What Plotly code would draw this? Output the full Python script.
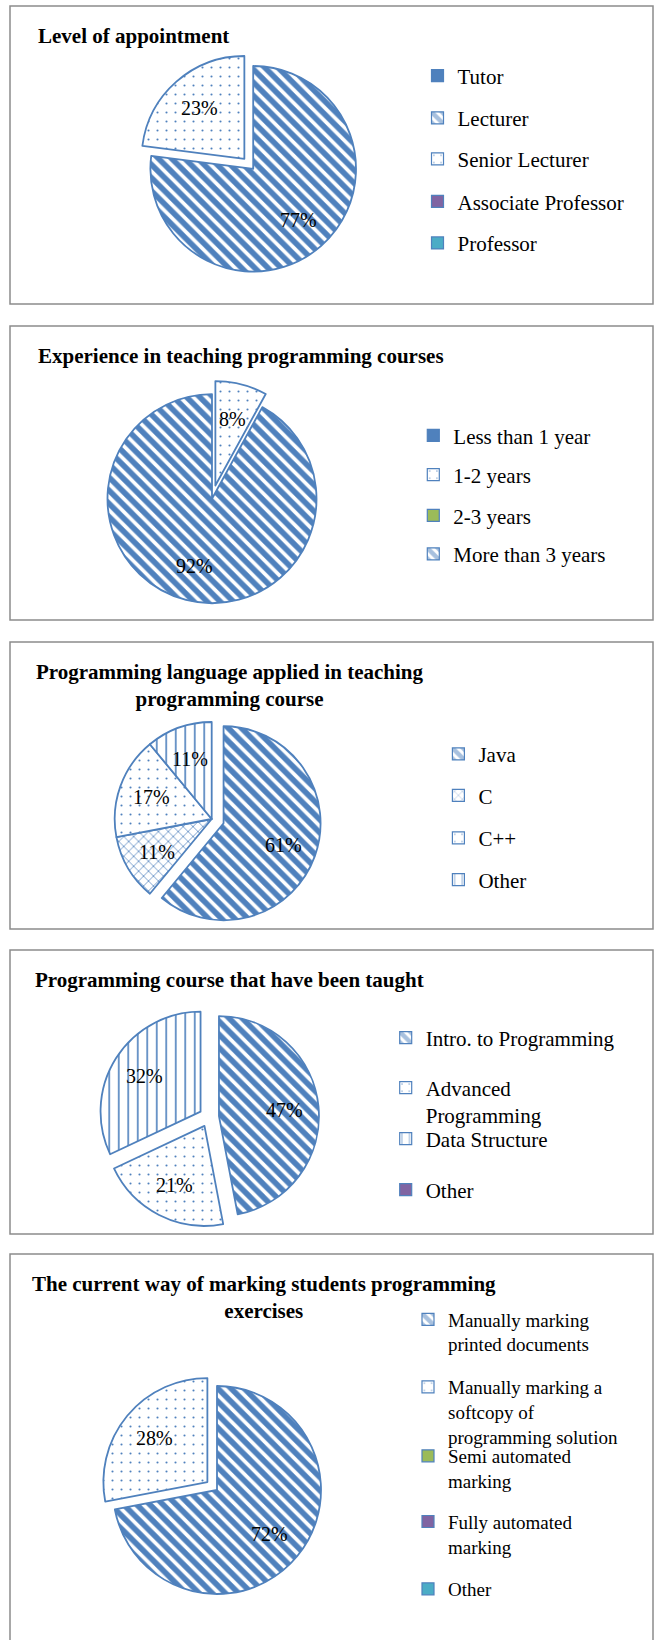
import math
import plotly.graph_objects as go

W, H = 655, 1640
BLUE = '#4F81BD'
PURPLE = '#8064A2'
GREEN = '#9BBB59'
AQUA = '#4BACC6'
FONT = 'Liberation Serif, Times New Roman, serif'

# ---------------- data ----------------
appoint_labels = ['Tutor', 'Lecturer', 'Senior Lecturer', 'Associate Professor', 'Professor']
appoint_values = [0, 77, 23, 0, 0]

exper_labels = ['Less than 1 year', '1-2 years', '2-3 years', 'More than 3 years']
exper_values = [0, 8, 0, 92]

lang_labels = ['Java', 'C', 'C++', 'Other']
lang_values = [61, 11, 17, 11]

course_labels = ['Intro. to Programming', 'Advanced<br>Programming', 'Data Structure', 'Other']
course_values = [47, 21, 32, 0]

marking_labels = ['Manually marking<br>printed documents',
                  'Manually marking a<br>softcopy of<br>programming solution',
                  'Semi automated<br>marking', 'Fully automated<br>marking', 'Other']
marking_values = [72, 28, 0, 0, 0]

titles = ['Level of appointment',
          'Experience in teaching programming courses',
          'Programming language applied in teaching<br>programming course',
          'Programming course that have been taught',
          'The current way of marking students programming<br>exercises']

# ---------------- styles ----------------
STYLES = {
    'solid_blue':   dict(color=BLUE,   shape='',   size=8, solidity=0.3),
    'solid_purple': dict(color=PURPLE, shape='',   size=8, solidity=0.3),
    'solid_green':  dict(color=GREEN,  shape='',   size=8, solidity=0.3),
    'solid_aqua':   dict(color=AQUA,   shape='',   size=8, solidity=0.3),
    'hatch':        dict(color='white', shape='\\', size=9.3, solidity=0.6),
    'dots':         dict(color='white', shape='.',  size=9, solidity=0.045),
    'vdash':        dict(color='white', shape='|',  size=9.5, solidity=0.17),
    'zigzag':       dict(color='white', shape='x',  size=7, solidity=0.2),
}

panels = [
    dict(labels=appoint_labels, values=appoint_values, title=titles[0],
         styles=['solid_blue', 'hatch', 'dots', 'solid_purple', 'solid_aqua'],
         pull=[0, 0, 0.13, 0, 0], box=(10, 6, 653, 304), center=(253.2, 168.8), r=102.8,
         tpos=(35.5, 36, 'left'), legx=454.5, legfont=21,
         rows=[(76, 76), (118.3, 118.3), (159.3, 159.3), (201.7, 201.7), (243.3, 243.3)]),
    dict(labels=exper_labels, values=exper_values, title=titles[1],
         styles=['solid_blue', 'dots', 'solid_green', 'hatch'],
         pull=[0, 0.13, 0, 0], box=(10, 326, 653, 620), center=(212, 498.7), r=104.5,
         tpos=(35.5, 356, 'left'), legx=450.3, legfont=21,
         rows=[(435.7, 435.7), (475, 475), (515.7, 515.7), (554.3, 554.3)]),
    dict(labels=lang_labels, values=lang_values, title=titles[2],
         styles=['hatch', 'zigzag', 'dots', 'vdash'],
         pull=[0.13, 0, 0, 0], box=(10, 642, 653, 929), center=(211.7, 819), r=97,
         tpos=(230, 685, 'center'), legx=475.4, legfont=21,
         rows=[(754.3, 754.3), (795.7, 795.7), (838.3, 838.3), (880, 880)]),
    dict(labels=course_labels, values=course_values, title=titles[3],
         styles=['hatch', 'dots', 'vdash', 'solid_purple'],
         pull=[0.1, 0.1, 0.1, 0], box=(10, 950, 653, 1234), center=(209, 1117), r=100,
         tpos=(32.6, 980, 'left'), legx=422.7, legfont=21,
         rows=[(1038, 1038), (1090, 1113), (1139, 1139), (1190, 1190)]),
    dict(labels=marking_labels, values=marking_values, title=titles[4],
         styles=['hatch', 'dots', 'solid_green', 'solid_purple', 'solid_aqua'],
         pull=[0, 0.12, 0, 0, 0], box=(10, 1254, 653, 1660), center=(217, 1490), r=104,
         tpos=(264, 1297.5, 'center'), legx=445, legfont=19,
         rows=[(1320.7, 1343.3), (1387.3, 1436.7), (1456.5, 1480.5), (1522.3, 1546), (1589, 1589)]),
]

LABEL_R = 0.66

fig = go.Figure()
shapes, annotations, legends = [], [], {}
leg_n = 0

for p in panels:
    x0, y0, x1, y1 = p['box']
    shapes.append(dict(type='rect', xref='paper', yref='paper',
                       x0=x0 / W, x1=x1 / W, y0=1 - y1 / H, y1=1 - y0 / H,
                       line=dict(color='#8C8C8C', width=1.5), fillcolor='rgba(0,0,0,0)'))
    tx, ty, ta = p['tpos']
    annotations.append(dict(x=tx / W, y=1 - ty / H, xref='paper', yref='paper',
                            text='<b>' + p['title'] + '</b>', showarrow=False,
                            xanchor=ta, yanchor='middle', align='center',
                            font=dict(family=FONT, size=21, color='black')))

    cx, cy = p['center']
    r = p['r']
    maxpull = max(p['pull'])
    s = r * (2 + 2 * maxpull)
    idx = [i for i, v in enumerate(p['values']) if v > 0]
    st = [STYLES[p['styles'][i]] for i in idx]
    fig.add_trace(go.Pie(
        labels=[p['labels'][i] for i in idx],
        values=[p['values'][i] for i in idx],
        pull=[p['pull'][i] for i in idx],
        sort=False, direction='clockwise', rotation=0,
        marker=dict(colors=[q['color'] for q in st],
                    line=dict(color=BLUE, width=1.8),
                    pattern=dict(shape=[q['shape'] for q in st],
                                 size=[q['size'] for q in st],
                                 solidity=[q['solidity'] for q in st],
                                 fgcolor=BLUE, bgcolor='white')),
        textinfo='none', hoverinfo='skip', showlegend=False,
        domain=dict(x=[(cx - s / 2) / W, (cx + s / 2) / W],
                    y=[1 - (cy + s / 2) / H, 1 - (cy - s / 2) / H]),
    ))

    # percentage labels, placed along each slice's mid angle
    total = sum(p['values'])
    cum = 0.0
    for i, v in enumerate(p['values']):
        if v <= 0:
            continue
        a0 = cum / total * 2 * math.pi
        cum += v
        a1 = cum / total * 2 * math.pi
        mid = (a0 + a1) / 2
        dx, dy = math.sin(mid), -math.cos(mid)
        off = (p['pull'][i] + LABEL_R) * r
        lx, ly = cx + off * dx, cy + off * dy
        annotations.append(dict(x=lx / W, y=1 - ly / H, xref='paper', yref='paper',
                                text=f'{round(100 * v / total)}%', showarrow=False,
                                xanchor='center', yanchor='middle',
                                font=dict(family=FONT, size=20, color='black')))

    # legend: one entry per category, each in its own positioned legend
    for j, lab in enumerate(p['labels']):
        leg_n += 1
        lid = 'legend' if leg_n == 1 else f'legend{leg_n}'
        q = STYLES[p['styles'][j]]
        pat = dict(shape=q['shape'], size=q['size'], solidity=q['solidity'], fgcolor=BLUE)
        if q['shape']:
            pat['bgcolor'] = 'white'
        fig.add_trace(go.Bar(x=[None], y=[None], name=lab, legend=lid,
                             marker=dict(color=q['color'], line=dict(color=BLUE, width=1.2),
                                         pattern=pat),
                             hoverinfo='skip', showlegend=True))
        yf, yl = p['rows'][j]
        legends[lid] = dict(x=(p['legx'] - 37) / W, xanchor='left',
                            y=1 - ((yf + yl) / 2) / H, yanchor='middle',
                            font=dict(family=FONT, size=p['legfont'], color='black'),
                            bgcolor='rgba(0,0,0,0)', borderwidth=0, valign='top')

fig.update_layout(
    width=W, height=H,
    margin=dict(l=0, r=0, t=0, b=0),
    paper_bgcolor='white', plot_bgcolor='white',
    xaxis=dict(visible=False), yaxis=dict(visible=False),
    showlegend=True,
    shapes=shapes, annotations=annotations,
    **legends,
)

fig.write_html('out.html', config={'displayModeBar': False},
               post_script="document.body.style.margin='0px';")
